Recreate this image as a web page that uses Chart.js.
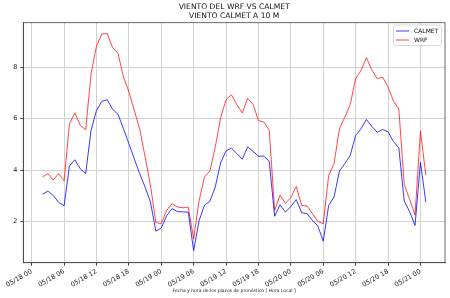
<!DOCTYPE html>
<html>
<head>
<meta charset="utf-8">
<script src="https://cdn.jsdelivr.net/npm/chart.js@4/dist/chart.umd.min.js"></script>
<style>
  body { margin: 0; background: #fff; }
  #wrap { width: 450px; height: 298px; }
</style>
</head>
<body>
<div id="wrap"><canvas id="viento" width="450" height="298"></canvas></div>
<script>
// horas desde 05/18 00 (hora local)
const horas = [2,3,4,5,6,7,8,9,10,11,12,13,14,15,16,17,18,19,20,21,22,23,24,25,26,27,28,29,30,31,32,33,34,35,36,37,
  38,39,40,41,42,43,44,45,46,47,48,49,50,51,52,53,54,55,56,57,58,59,60,61,62,63,64,65,66,67,68,69,70,71,72,73]

const calmet = [3.06,3.18,3.01,2.74,2.61,4.16,4.40,4.05,3.86,5.55,6.32,6.68,6.74,6.36,6.17,5.61,5.03,4.44,3.86,3.34,2.75,1.62,1.74,2.22,
  2.50,2.38,2.37,2.36,0.86,2.02,2.63,2.78,3.34,4.28,4.75,4.85,4.64,4.42,4.90,4.73,4.54,4.54,4.34,2.20,2.65,2.36,2.58,2.85,
  2.34,2.30,2.04,1.82,1.23,2.62,2.95,3.96,4.25,4.57,5.35,5.61,5.97,5.70,5.47,5.58,5.49,5.11,4.86,2.79,2.38,1.84,4.30,2.75]

const wrf = [3.73,3.86,3.61,3.86,3.58,5.80,6.23,5.74,5.57,7.75,8.83,9.30,9.31,8.77,8.54,7.63,7.05,6.33,5.60,4.52,3.41,1.95,1.92,2.43,
  2.69,2.56,2.53,2.56,1.31,2.80,3.73,3.96,4.90,6.04,6.74,6.93,6.55,6.22,6.79,6.56,5.93,5.87,5.55,2.43,3.02,2.70,2.93,3.36,
  2.62,2.60,2.30,2.00,1.91,3.79,4.25,5.61,6.06,6.55,7.56,7.88,8.38,7.90,7.56,7.62,7.24,6.69,6.38,3.44,2.86,2.24,5.52,3.80]

const tickHoras = [0,6,12,18,24,30,36,42,48,54,60,66,72]
const tickEtiquetas = ['05/18 00','05/18 06','05/18 12','05/18 18','05/19 00','05/19 06','05/19 12',
  '05/19 18','05/20 00','05/20 06','05/20 12','05/20 18','05/21 00']
const yTicks = [2,4,6,8]

const titulo = ['VIENTO DEL WRF VS CALMET', 'VIENTO CALMET A 10 M']
const ejeX = 'Fecha y hora de los plazos de pronóstico [ Hora Local ]'

const fuente = 'DejaVu Sans'

// titulo, marco y leyenda
const extras = {
  id: 'extras',
  afterDraw(chart){
    const ctx = chart.ctx
    const a = chart.chartArea
    ctx.save()
    ctx.strokeStyle = '#444'
    ctx.lineWidth = 0.8
    ctx.strokeRect(a.left, a.top, a.right - a.left, a.bottom - a.top)

    ctx.fillStyle = '#111'
    ctx.font = '7.6px "' + fuente + '"'
    ctx.textAlign = 'center'
    ctx.textBaseline = 'middle'
    const cx = (a.left + a.right) / 2
    ctx.fillText(titulo[0], cx, 6.8)
    ctx.fillText(titulo[1], cx, 15.8)

    // leyenda
    const bx = 393.5, by = 25, bw = 48, bh = 20.5
    ctx.fillStyle = 'rgba(255,255,255,0.85)'
    ctx.strokeStyle = '#d0d0d0'
    ctx.lineWidth = 0.8
    ctx.beginPath()
    ctx.roundRect(bx, by, bw, bh, 2)
    ctx.fill()
    ctx.stroke()
    ctx.font = '6px "' + fuente + '"'
    ctx.textAlign = 'left'
    chart.data.datasets.forEach((ds, i) => {
      const y = by + 6 + i * 9
      ctx.strokeStyle = ds.borderColor
      ctx.lineWidth = 1
      ctx.beginPath()
      ctx.moveTo(bx + 2.5, y)
      ctx.lineTo(bx + 15.5, y)
      ctx.stroke()
      ctx.fillStyle = '#111'
      ctx.fillText(ds.label, bx + 20.5, y + 0.3)
    })
    ctx.restore()
  }
}

const ctx = document.getElementById('viento').getContext('2d')
const chartViento = new Chart(ctx, {
  type: 'line',
  data: {
    datasets: [
      {
        label: 'CALMET',
        data: horas.map((h, i) => ({x: h, y: calmet[i]})),
        borderColor: 'rgba(0,0,255,0.78)',
        borderWidth: 1,
        pointRadius: 0,
        tension: 0,
        fill: false
      },
      {
        label: 'WRF',
        data: horas.map((h, i) => ({x: h, y: wrf[i]})),
        borderColor: 'rgba(255,0,0,0.72)',
        borderWidth: 1,
        pointRadius: 0,
        tension: 0,
        fill: false
      }
    ]
  },
  options: {
    responsive: false,
    animation: false,
    layout: { padding: { left: 0, right: 5, top: 22.7, bottom: 0 } },
    plugins: {
      legend: { display: false },
      title: { display: false },
      tooltip: { enabled: false }
    },
    scales: {
      x: {
        type: 'linear',
        min: -1.55,
        max: 76.55,
        afterBuildTicks: scale => { scale.ticks = tickHoras.map(v => ({value: v})) },
        afterFit: scale => { scale.height = 35.3 },
        ticks: {
          autoSkip: false,
          minRotation: 30,
          maxRotation: 30,
          padding: 2,
          color: '#222',
          font: { family: fuente, size: 6.5 },
          callback: v => tickEtiquetas[tickHoras.indexOf(v)]
        },
        grid: { color: '#d2d2d2', lineWidth: 1, tickLength: 3, tickColor: '#444' },
        border: { display: true, color: '#444', width: 0.8 },
        title: {
          display: true,
          text: ejeX,
          color: '#222',
          font: { family: fuente, size: 4.5 },
          padding: { top: 0, bottom: 4 }
        }
      },
      y: {
        min: 0.39,
        max: 9.74,
        afterBuildTicks: scale => { scale.ticks = yTicks.map(v => ({value: v})) },
        afterFit: scale => { scale.width = 23.3 },
        ticks: {
          padding: 3,
          color: '#222',
          font: { family: fuente, size: 6.5 }
        },
        grid: { color: '#d2d2d2', lineWidth: 1, tickLength: 3, tickColor: '#444' },
        border: { display: true, color: '#444', width: 0.8 }
      }
    }
  },
  plugins: [extras]
})
</script>
</body>
</html>
